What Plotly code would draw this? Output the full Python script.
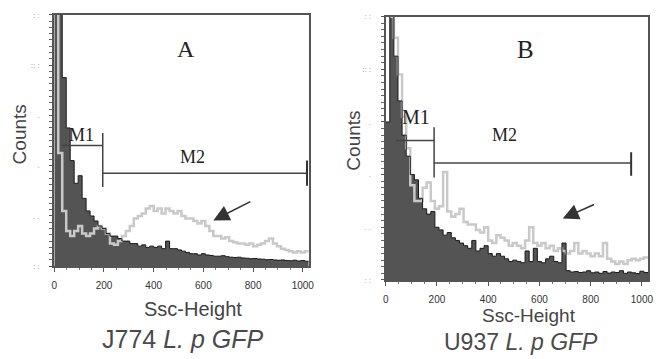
import plotly.graph_objects as go

# ---- data (channel bins of 16, 0..1024; counts in % of panel height) ----
bin_edges = [16 * i for i in range(65)]

a_dark = [130, 140, 75, 55, 42, 33, 36, 27, 22, 20, 18, 16, 15, 13, 12, 12,
          11, 10, 10, 9, 9, 8, 8.5, 7.5, 8, 7.5, 8, 7, 10, 7, 7, 6.5,
          6, 5.5, 5, 5, 4.5, 5, 4.5, 4.3, 4, 4, 4.2, 3.8, 3.6, 3.5, 3.6, 3.3,
          3.2, 3, 3.1, 2.9, 2.8, 2.6, 2.7, 2.5, 2.4, 2.5, 2.3, 2.2, 2.4, 2.1, 2.3, 2]
a_light = [130, 45, 22, 14, 12, 14, 16, 13, 12, 13, 15, 16, 15, 13, 9, 8.5,
           10, 12, 14, 16, 19, 20, 21, 23, 24, 22, 23, 21, 23, 22, 21, 22,
           20, 19, 19, 18, 17, 18, 16, 14, 12, 12, 11, 11.5, 10, 9.5, 9, 9,
           8.5, 9, 8, 8.5, 9, 10, 11, 9, 8, 7, 6.5, 6, 5.5, 6, 5.5, 6]

b_dark = [60, 105, 85, 68, 55, 47, 40, 38, 31, 27, 25, 26, 20, 19, 17, 18,
          16, 15, 14, 13, 12, 15, 11, 12, 13, 10, 9, 10, 9, 8, 7, 7.5,
          7, 6.5, 11, 7, 12, 7, 6.5, 8, 9, 7, 6.5, 14, 3.5, 3, 3.2, 2.8,
          3, 3.5, 2.7, 3, 2.5, 3.2, 2.6, 3, 2.8, 3.5, 2.5, 3, 2.7, 2.4, 3.3, 2.8]
b_light = [130, 100, 92, 78, 62, 50, 36, 30, 30, 35, 37, 30, 27, 28, 41, 26,
           24, 25, 27, 22, 21, 21, 19, 18, 20, 15, 14, 17, 16, 15, 13, 14,
           13, 12, 15, 20, 14, 13, 14, 12, 13, 11, 12, 11, 10, 11, 14, 10,
           11, 10, 9, 10, 9, 14, 8, 7, 6, 7, 6, 7.5, 8, 7.5, 8, 8.5]

x_tick_vals = [0, 200, 400, 600, 800, 1000]
x_tick_text = ["0", "200", "400", "600", "800", "1000"]
y_tick_vals = [0, 20, 40, 60, 80, 100]
y_tick_text = [": :", ". .", ".", ".", ":: :", ": :"]

# gates (channel ranges) and their heights (% of panel)
a_m1 = (30, 195, 48)
a_m2 = (195, 1017, 37)
b_m1 = (39, 189, 53)
b_m2 = (189, 958, 44.4)

DARK_FILL = "#545454"
LIGHT = "#c9c9c9"
W, H = 658, 359


def steps(vals):
    return bin_edges, list(vals) + [vals[-1]]


fig = go.Figure()
for dark, light, xa, ya in [(a_dark, a_light, "x", "y"), (b_dark, b_light, "x2", "y2")]:
    xs, ys = steps(dark)
    fig.add_trace(go.Scatter(x=xs, y=ys, mode="lines", line_shape="hv",
                             fill="tozeroy", fillcolor=DARK_FILL,
                             line=dict(width=0, color=DARK_FILL),
                             xaxis=xa, yaxis=ya, showlegend=False, hoverinfo="skip"))
    xs, ys = steps(light)
    fig.add_trace(go.Scatter(x=xs, y=ys, mode="lines", line_shape="hv",
                             line=dict(width=2.5, color=LIGHT),
                             xaxis=xa, yaxis=ya, showlegend=False, hoverinfo="skip"))
    xs, ys = steps(dark)
    fig.add_trace(go.Scatter(x=xs, y=ys, mode="lines", line_shape="hv",
                             line=dict(width=1, color="#1a1a1a"),
                             xaxis=xa, yaxis=ya, showlegend=False, hoverinfo="skip"))


def px_dom(a, b, total):
    return [a / total, b / total]


xcommon = dict(range=[0, 1024], tickvals=x_tick_vals, ticktext=x_tick_text,
               ticks="outside", ticklen=4, tickcolor="#555", showline=True,
               linecolor="#555", linewidth=1.5, mirror=True, showgrid=False,
               zeroline=False, tickfont=dict(family="Liberation Sans", size=10, color="#333"),
               minor=dict(ticks="outside", ticklen=2, dtick=50, tickcolor="#777"),
               ticklabelstandoff=5)
ycommon = dict(range=[0, 100], tickvals=y_tick_vals, ticktext=y_tick_text,
               ticks="outside", ticklen=3, tickcolor="#555", showline=True,
               linecolor="#555", linewidth=2, mirror=True, showgrid=False,
               zeroline=False, tickfont=dict(family="Liberation Sans", size=8, color="#888"),
               minor=dict(ticks="outside", ticklen=3, dtick=2.5, tickcolor="#666"),
               ticklabelstandoff=8)

fig.update_layout(
    width=W, height=H, margin=dict(l=0, r=0, t=0, b=0),
    paper_bgcolor="white", plot_bgcolor="white",
    xaxis=dict(domain=px_dom(52, 310, W), anchor="y", **xcommon),
    yaxis=dict(domain=[1 - 269 / H, 1 - 11 / H], anchor="x", **ycommon),
    xaxis2=dict(domain=px_dom(388, 654, W), anchor="y2", **xcommon),
    yaxis2=dict(domain=[1 - 283 / H, 1 - 13 / H], anchor="x2", **ycommon),
)

shapes = []
GATE = dict(color="#444", width=1.5)
for (m1, m2, xr, yr, endtick) in [(a_m1, a_m2, "x", "y", (42, 32)),
                                   (b_m1, b_m2, "x2", "y2", (48.5, 39.6))]:
    shapes.append(dict(type="line", xref=xr, yref=yr, x0=m1[0], x1=m1[1], y0=m1[2], y1=m1[2], line=GATE))
    shapes.append(dict(type="line", xref=xr, yref=yr, x0=m2[0], x1=m2[1], y0=m2[2], y1=m2[2], line=GATE))
    shapes.append(dict(type="line", xref=xr, yref=yr, x0=m1[1], x1=m1[1],
                       y0=m1[2] + 5, y1=m2[2] - 5.5, line=GATE))
    shapes.append(dict(type="line", xref=xr, yref=yr, x0=m2[1], x1=m2[1],
                       y0=endtick[0], y1=endtick[1], line=dict(color="#333", width=2)))
fig.update_layout(shapes=shapes)

SERIF = "Liberation Serif"
SANS = "Liberation Sans"
ann = []


def txt(text, x, y, xr, yr, size, family=SERIF, color="#222", **kw):
    ann.append(dict(text=text, x=x, y=y, xref=xr, yref=yr, showarrow=False,
                    xanchor="center", yanchor="middle",
                    font=dict(family=family, size=size, color=color), **kw))


txt("A", 532, 86.5, "x", "y", 24)
txt("M1", 111, 52, "x", "y", 18)
txt("M2", 556, 43.5, "x", "y", 18)
txt("B", 544, 87.5, "x2", "y2", 25)
txt("M1", 120, 62, "x2", "y2", 20)
txt("M2", 463, 55, "x2", "y2", 18)

# arrows
ann.append(dict(x=640, y=18.2, ax=795, ay=26, xref="x", yref="y", axref="x", ayref="y",
                showarrow=True, arrowhead=2, arrowsize=2, arrowwidth=1.6, arrowcolor="#333", text=""))
ann.append(dict(x=691, y=23.3, ax=819, ay=28.9, xref="x2", yref="y2", axref="x2", ayref="y2",
                showarrow=True, arrowhead=2, arrowsize=2, arrowwidth=1.6, arrowcolor="#333", text=""))

# axis titles & captions (paper coords)
txt("Counts", 17 / W, 1 - 134 / H, "paper", "paper", 19, SANS, "#444", textangle=-90)
txt("Counts", 355 / W, 1 - 140 / H, "paper", "paper", 19, SANS, "#444", textangle=-90)
txt("Ssc-Height", 193 / W, 1 - 313 / H, "paper", "paper", 20, SANS, "#444")
txt("Ssc-Height", 533 / W, 1 - 319 / H, "paper", "paper", 19, SANS, "#444")
txt("J774 <i>L. p GFP</i>", 183 / W, 1 - 344 / H, "paper", "paper", 25, SANS, "#4a4a4a")
txt("U937 <i>L. p GFP</i>", 525 / W, 1 - 347 / H, "paper", "paper", 23, SANS, "#4a4a4a")

fig.update_layout(annotations=ann)
fig.write_html("out.html", config={"displayModeBar": False},
               post_script="document.body.style.margin='0';document.body.style.padding='0';")
